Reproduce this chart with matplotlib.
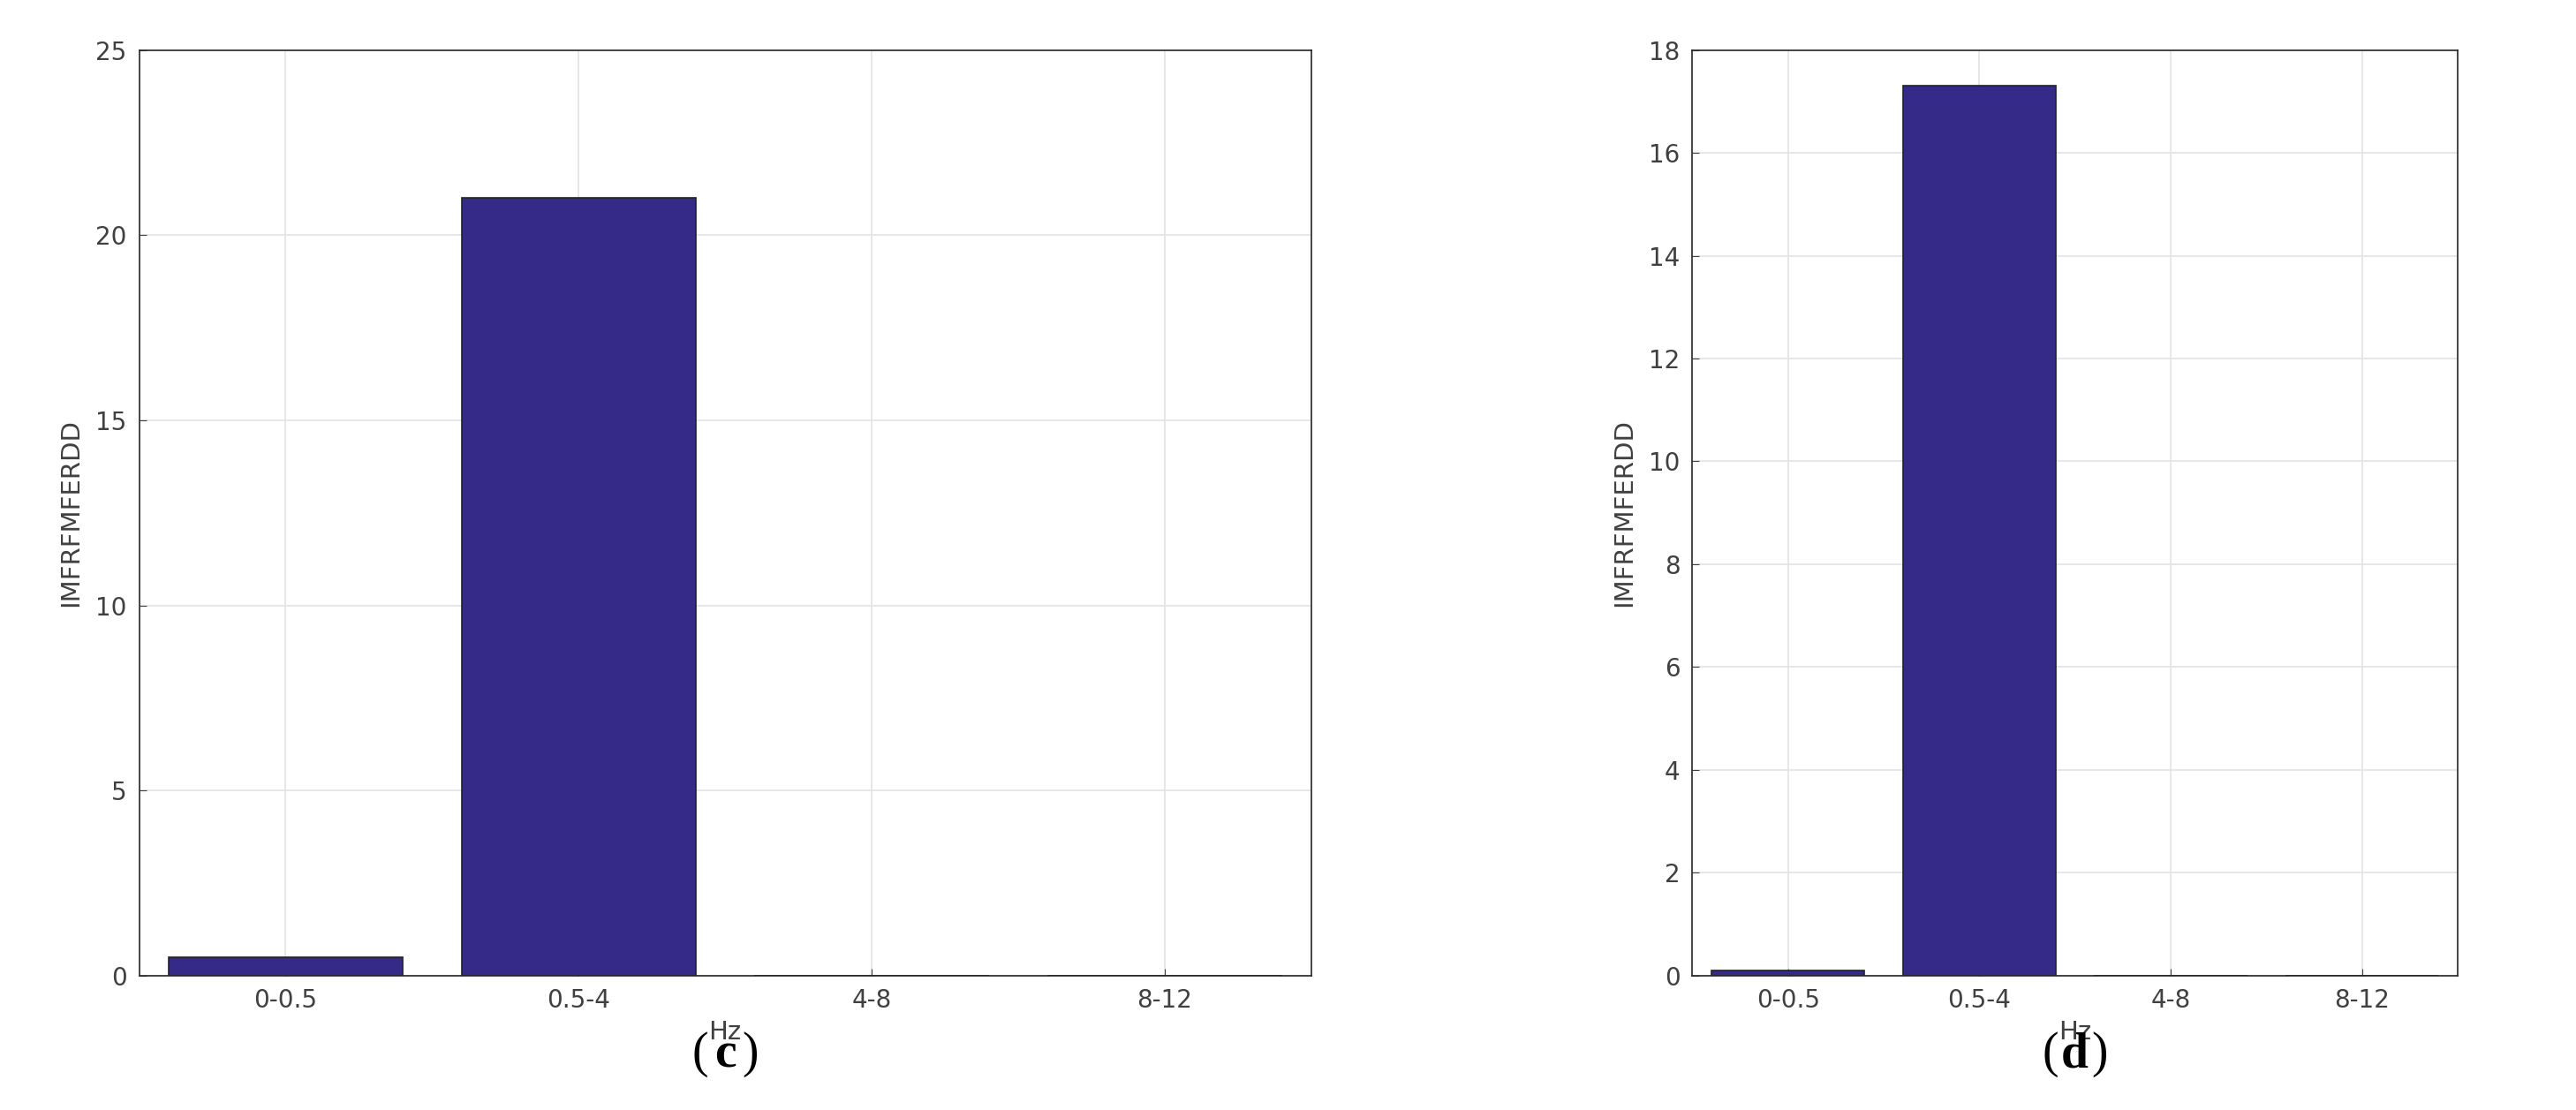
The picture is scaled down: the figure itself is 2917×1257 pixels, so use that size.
import matplotlib.pyplot as plt

# frequency bands and values per panel
bands = ['0-0.5', '0.5-4', '4-8', '8-12']
vals_c = [0.5, 21.0, 0.0, 0.0]
vals_d = [0.1, 17.3, 0.0, 0.0]
yticks_c = [0, 5, 10, 15, 20, 25]
yticks_d = [0, 2, 4, 6, 8, 10, 12, 14, 16, 18]

bar_col = '#352a87'
txt_col = '#404040'

fig = plt.figure(figsize=(29.17, 12.57), dpi=100)

def panel(rect, vals, yticks, tag):
    ax = fig.add_axes(rect)
    xs = list(range(1, len(bands) + 1))
    ax.bar(xs, vals, width=0.8, color=bar_col, edgecolor='#222222', linewidth=1.2, zorder=3)
    ax.set_xlim(0.5, 4.5)
    ax.set_ylim(yticks[0], yticks[-1])
    ax.set_xticks(xs)
    ax.set_xticklabels(bands)
    ax.set_yticks(yticks)
    ax.grid(True, color='#e3e3e3', linewidth=1.2, zorder=0)
    ax.tick_params(labelsize=20, colors=txt_col, direction='in', length=6, pad=10)
    for s in ax.spines.values():
        s.set_color('#262626')
        s.set_linewidth(1.2)
    ax.set_xlabel('Hz', fontsize=21, color=txt_col, labelpad=6)
    ax.set_ylabel('IMFRFMFERDD', fontsize=21, color=txt_col, labelpad=10)
    cx = rect[0] + rect[2] / 2
    fig.text(cx - 0.0065, 0.05, '(', fontsize=40, ha='right', va='center', family='Liberation Serif')
    fig.text(cx, 0.05, tag, fontsize=40, ha='center', va='center', weight='bold', family='Liberation Serif')
    fig.text(cx + 0.0065, 0.05, ')', fontsize=40, ha='left', va='center', family='Liberation Serif')
    return ax

panel([0.054, 0.121, 0.455, 0.834], vals_c, yticks_c, 'c')
panel([0.657, 0.121, 0.297, 0.834], vals_d, yticks_d, 'd')

fig.savefig('out.png', dpi=100, facecolor='white')
